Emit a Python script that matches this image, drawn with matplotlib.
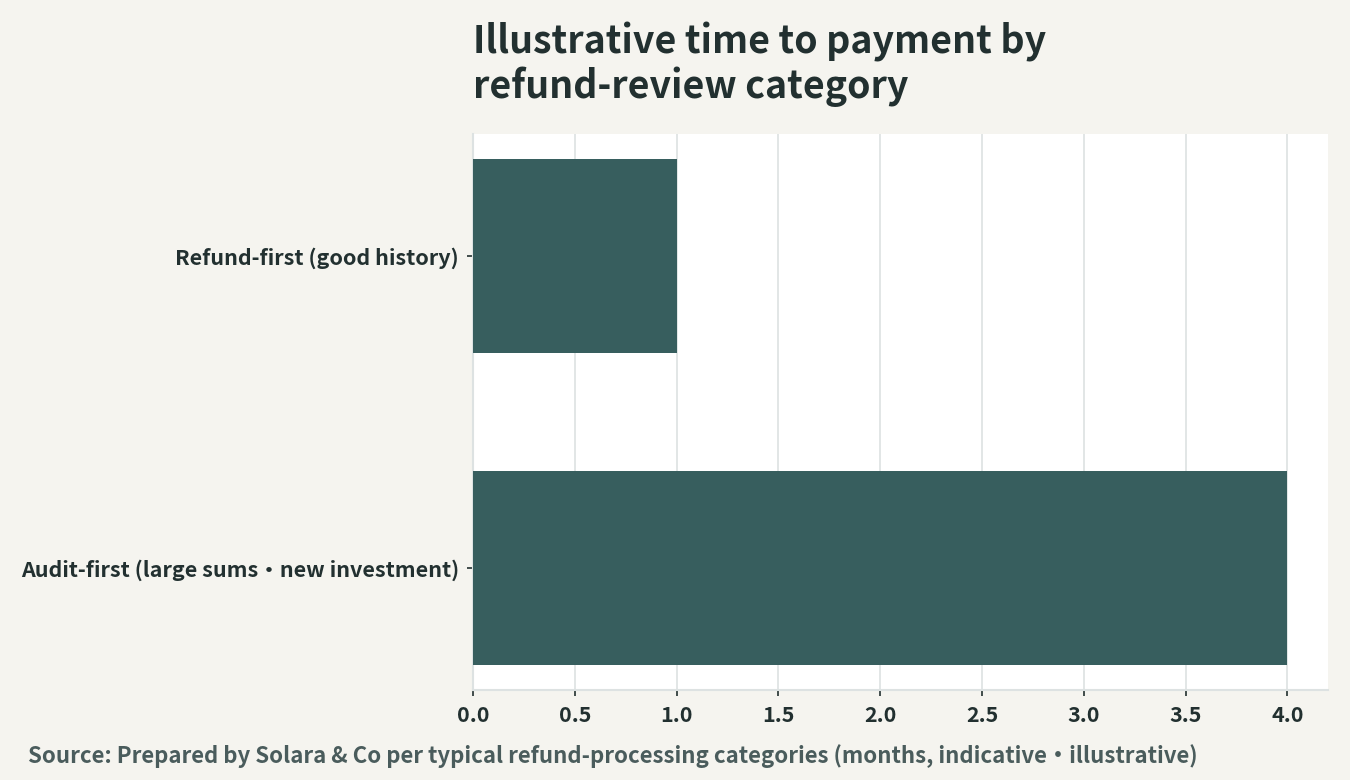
import matplotlib.pyplot as plt

plt.rcParams['font.family'] = ['Noto Sans CJK JP', 'DejaVu Sans']

categories = ["Audit-first (large sums・new investment)", "Refund-first (good history)"]
months = [4.0, 1.0]

bg = "#f5f4ef"
bar_color = "#375e5e"
text_dark = "#223030"
grid_color = "#dde2e2"

fig = plt.figure(figsize=(13.5, 7.8), dpi=100, facecolor=bg)
ax = fig.add_axes([473 / 1350, 90 / 780, 855 / 1350, 556 / 780])
ax.set_facecolor("white")

ax.barh(categories, months, height=0.62, color=bar_color, zorder=3)

ax.grid(axis="x", color=grid_color, linewidth=1.2, zorder=0)
ax.grid(axis="y", visible=False)
for s in ["top", "right"]:
    ax.spines[s].set_visible(False)
for s in ["left", "bottom"]:
    ax.spines[s].set_color(grid_color)
    ax.spines[s].set_linewidth(1.5)

ax.tick_params(axis="both", colors=text_dark, labelsize=15.5, length=4, width=1.2)
ax.tick_params(axis="y", pad=6)
ax.tick_params(axis="x", pad=7)
for lab in ax.get_xticklabels() + ax.get_yticklabels():
    lab.set_fontweight("bold")
    lab.set_color(text_dark)

fig.text(473 / 1350, 1 - 22 / 780, "Illustrative time to payment by\nrefund-review category",
         fontsize=27, fontweight="bold", color=text_dark, ha="left", va="top",
         linespacing=1.15)

fig.text(28 / 1350, 1 - 756 / 780,
         "Source: Prepared by Solara & Co per typical refund-processing categories (months, indicative・illustrative)",
         fontsize=16, fontweight="bold", color="#4a5c5c", ha="left", va="center")

fig.savefig("out.png", dpi=100, facecolor=bg)
